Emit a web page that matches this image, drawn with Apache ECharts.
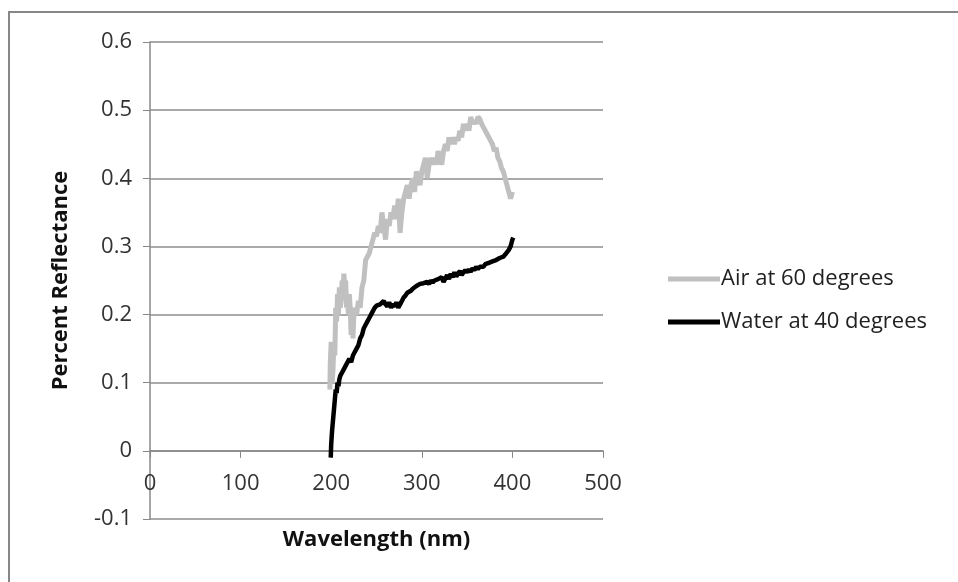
<!DOCTYPE html>
<html>
<head>
<meta charset="utf-8">
<script src="https://cdn.jsdelivr.net/npm/echarts@6/dist/echarts.min.js"></script>
<style>
html,body{margin:0;padding:0;background:#fff;}
#chart{width:958px;height:582px;}
</style>
</head>
<body>
<div id="chart"></div>
<script>
const seriesNames = ['Air at 60 degrees', 'Water at 40 degrees'];
const xTicks = [0, 100, 200, 300, 400, 500];
const yTicks = [-0.1, 0, 0.1, 0.2, 0.3, 0.4, 0.5, 0.6];

const airWavelength = [198.5,199,200,201,202,203,204,205,206,207,208,209,210,211,212,213,214,215,216,217,218,219,220,221,222,223,224,225,226,228,230,232,234,236,238,240,242,244,246,248,250,252,254,256,258,260,262,264,266,268,270,272,274,276,278,280,282,284,286,288,290,292,294,296,298,300,302,304,306,308,310,312,314,316,318,320,322,324,326,328,330,332,334,336,338,340,342,344,346,348,350,352,354,356,358,360,362,364,366,368,370,372,374,376,378,380,382,384,386,388,390,392,394,396,398,400];
const airValues = [0.09,0.13,0.16,0.10,0.12,0.16,0.14,0.21,0.19,0.23,0.20,0.24,0.21,0.22,0.25,0.23,0.26,0.24,0.25,0.21,0.22,0.20,0.23,0.21,0.17,0.19,0.165,0.20,0.21,0.20,0.22,0.21,0.24,0.25,0.28,0.28,0.29,0.30,0.31,0.32,0.315,0.33,0.32,0.35,0.33,0.31,0.34,0.33,0.35,0.34,0.36,0.34,0.37,0.32,0.35,0.37,0.38,0.39,0.37,0.39,0.40,0.38,0.41,0.40,0.39,0.41,0.42,0.43,0.40,0.42,0.43,0.42,0.43,0.42,0.44,0.43,0.42,0.44,0.45,0.44,0.46,0.45,0.46,0.45,0.46,0.455,0.47,0.46,0.48,0.47,0.48,0.47,0.49,0.48,0.485,0.48,0.49,0.487,0.48,0.478,0.47,0.465,0.46,0.455,0.45,0.44,0.445,0.43,0.425,0.415,0.41,0.40,0.39,0.38,0.37,0.38];

const waterWavelength = [199.5,200,201,202,203,204,205,206,207,208,209,210,212,214,216,218,220,222,224,226,228,230,232,234,236,238,240,242,244,246,248,250,252,254,256,258,260,262,264,266,268,270,272,274,276,278,280,282,284,286,288,290,292,294,296,298,300,302,304,306,308,310,312,314,316,318,320,322,324,326,328,330,332,334,336,338,340,342,344,346,348,350,352,354,356,358,360,362,364,366,368,370,372,374,376,378,380,382,384,386,388,390,392,394,396,398,399,400,401];
const waterValues = [-0.01,0.01,0.03,0.045,0.06,0.075,0.09,0.085,0.10,0.095,0.105,0.11,0.115,0.12,0.125,0.13,0.135,0.13,0.14,0.145,0.15,0.155,0.165,0.17,0.18,0.185,0.19,0.195,0.20,0.205,0.21,0.213,0.212,0.215,0.213,0.22,0.215,0.212,0.218,0.21,0.215,0.212,0.218,0.21,0.215,0.22,0.225,0.228,0.232,0.23,0.235,0.238,0.24,0.242,0.24,0.245,0.243,0.246,0.244,0.248,0.245,0.25,0.247,0.25,0.248,0.252,0.25,0.255,0.248,0.253,0.258,0.252,0.26,0.255,0.262,0.256,0.26,0.264,0.258,0.262,0.265,0.262,0.266,0.263,0.268,0.265,0.27,0.267,0.27,0.272,0.27,0.274,0.272,0.276,0.274,0.278,0.276,0.28,0.279,0.283,0.282,0.285,0.288,0.29,0.295,0.30,0.305,0.31,0.313];

const zip = (xs, ys) => xs.map((x, i) => [x, ys[i]]);
const FONT = 'Open Sans';

const chart = echarts.init(document.getElementById('chart'), null, {renderer: 'canvas'});
chart.setOption({
  animation: false,
  backgroundColor: '#ffffff',
  graphic: [{
    type: 'rect',
    shape: {x: 9, y: 12, width: 1000, height: 600},
    style: {fill: 'none', stroke: '#878787', lineWidth: 2},
    silent: true
  }],
  grid: {left: 150, right: 355, top: 42, bottom: 63, containLabel: false, outerBoundsMode: 'none'},
  legend: {
    orient: 'vertical',
    left: 663,
    top: 263,
    itemWidth: 52,
    itemHeight: 5,
    itemGap: 21,
    textStyle: {fontFamily: FONT, fontSize: 22, color: '#222', padding: [0, 0, 0, -4]},
    data: seriesNames.map(n => ({name: n, icon: 'rect'}))
  },
  xAxis: {
    type: 'value',
    min: xTicks[0],
    max: xTicks[xTicks.length - 1],
    interval: 100,
    name: 'Wavelength (nm)',
    nameLocation: 'middle',
    nameGap: 21,
    nameMoveOverlap: false,
    nameTextStyle: {fontFamily: FONT, fontSize: 22, fontWeight: 'bold', color: '#111', verticalAlign: 'middle'},
    axisLine: {onZero: true, lineStyle: {color: '#888', width: 1.5}},
    axisTick: {show: true, length: 7, lineStyle: {color: '#888'}},
    axisLabel: {fontFamily: FONT, fontSize: 22, color: '#333', margin: -46},
    splitLine: {show: false}
  },
  yAxis: {
    type: 'value',
    min: yTicks[0],
    max: yTicks[yTicks.length - 1],
    interval: 0.1,
    name: 'Percent Reflectance',
    nameLocation: 'middle',
    nameGap: 78,
    nameRotate: 90,
    nameTextStyle: {fontFamily: FONT, fontSize: 22, fontWeight: 'bold', color: '#111'},
    axisLine: {show: true, onZero: false, lineStyle: {color: '#888', width: 1.5}},
    axisTick: {show: true, length: 7, lineStyle: {color: '#888'}},
    axisLabel: {
      fontFamily: FONT, fontSize: 22, color: '#333', margin: 18,
      formatter: v => (Math.round(v * 10) / 10).toString()
    },
    splitLine: {show: true, lineStyle: {color: '#8c8c8c', width: 1.5}}
  },
  series: [
    {
      name: seriesNames[0],
      type: 'line',
      data: zip(airWavelength, airValues),
      showSymbol: false,
      lineStyle: {color: '#c0c0c0', width: 5},
      itemStyle: {color: '#c0c0c0'}
    },
    {
      name: seriesNames[1],
      type: 'line',
      data: zip(waterWavelength, waterValues),
      showSymbol: false,
      lineStyle: {color: '#000000', width: 4.5},
      itemStyle: {color: '#000000'}
    }
  ]
});
</script>
</body>
</html>
